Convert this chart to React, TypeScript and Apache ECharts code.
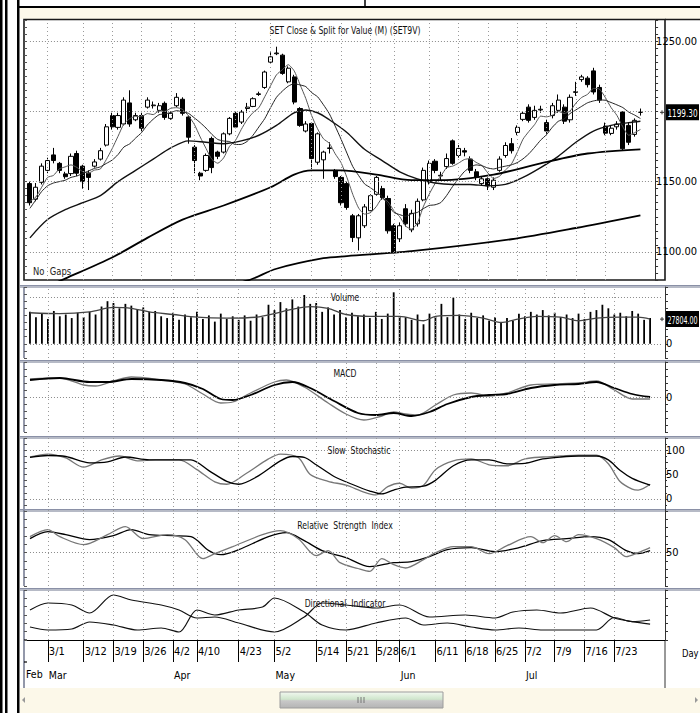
import React, { useEffect, useRef } from "react";
import * as echarts from "echarts";

const FONT = "'Liberation Sans Narrow', 'DejaVu Sans Condensed', 'Arial Narrow', 'Liberation Sans', sans-serif";

// ---------- categories ----------
const dates = ["2/26","2/27","2/28","3/1","3/2","3/6","3/7","3/8","3/9","3/12","3/13","3/14","3/15","3/16","3/19","3/20","3/21","3/22","3/23","3/26","3/27","3/28","3/29","3/30","4/2","4/3","4/4","4/5","4/10","4/11","4/12","4/17","4/18","4/19","4/20","4/23","4/24","4/25","4/26","4/27","4/30","5/2","5/3","5/4","5/8","5/9","5/10","5/11","5/14","5/15","5/16","5/17","5/18","5/21","5/22","5/23","5/24","5/25","5/28","5/29","5/30","5/31","6/1","6/4","6/5","6/6","6/7","6/8","6/11","6/12","6/13","6/14","6/15","6/18","6/19","6/20","6/21","6/22","6/25","6/26","6/27","6/28","6/29","7/2","7/3","7/4","7/5","7/6","7/9","7/10","7/11","7/12","7/13","7/16","7/17","7/18","7/19","7/20","7/23","7/24","7/25","7/26","7/27","7/30","7/31"];
const dateTicks = ["3/1","3/12","3/19","3/26","4/2","4/10","4/23","5/2","5/14","5/21","5/28","6/1","6/11","6/18","6/25","7/2","7/9","7/16","7/23"];
const monthStarts = ["2/26","3/1","4/2","5/2","6/1","7/2"];
const monthNames = ["Feb","Mar","Apr","May","Jun","Jul"];

// ---------- price ----------
const opens = [1148.6,1137.5,1149.5,1158,1169,1163,1155.5,1155.7,1170,1161, 1156,1161,1166,1176,1197,1188.6,1191,1206,1194,1197, 1203,1204,1200.7,1205.7,1195,1204,1208.6,1196,1174.5,1156, 1158,1180.7,1171,1171,1184,1198.6,1192.4,1202,1203.5,1212, 1217,1235,1241,1240,1221,1224.5,1202,1186,1191.4,1163.8, 1165.5,1173.6,1158,1153,1148.6,1125.7,1110,1118.6,1129.3,1141, 1145,1138,1118.6,1109.3,1130.7,1115.7,1120,1137,1150,1164.5, 1154,1160.7,1179,1168.6,1172,1166,1157,1148.6,1152,1146, 1158,1168.6,1177,1185,1194.3,1203,1195.7,1201,1192,1197, 1200.7,1203,1194,1213.5,1222.6,1223.6,1228.8,1217,1189.5,1184.3, 1189,1199.5,1190,1183.6,1199.3];
const closes = [1135,1146,1161,1165,1165,1158,1153.5,1168,1156,1150, 1153,1164,1172,1189,1189,1197,1208,1191,1197,1188, 1208,1204.5,1204,1195.7,1198.6,1210,1198.6,1181.6,1165,1154, 1168.6,1160,1168,1184,1195,1188.8,1199.5,1203,1209,1212.5, 1228,1238.8,1241.5,1227,1230.7,1206.6,1190,1191,1166.4,1184, 1171,1174,1153.6,1135,1131.6,1110.2,1125.7,1132,1140,1153, 1138.6,1115,1100,1118.6,1120,1127.4,1136,1158,1163,1158, 1154.5,1166.4,1163,1173.6,1171,1158,1153,1152,1147,1151, 1166,1175.7,1172,1188.6,1198.6,1193.6,1200.7,1201.5,1186,1204, 1208,1193,1210,1214,1224.5,1219,1213.8,1208,1184.5,1188, 1191,1173.4,1178,1193.6,1199.3];
const highs = [1150,1149,1163,1167,1174,1164,1157,1170,1172,1162, 1158,1166,1174,1191,1199,1199,1210,1215,1199,1199, 1210,1207,1206,1207,1200,1213,1210,1197,1176,1157, 1170,1182,1172,1185,1196,1200,1201,1206,1210,1214, 1229,1242,1246,1241,1232,1226,1203,1193,1192,1185, 1172,1178,1159,1154,1150,1127,1127,1134,1141,1154, 1147,1140,1120,1121,1134,1130,1138,1160,1165,1166, 1157,1170,1180,1176,1174,1168,1159,1154,1153,1153, 1168,1178,1181,1190,1200,1205,1204,1204,1194,1206, 1212,1205,1212,1221,1226,1225,1231,1219,1192,1190, 1193,1200,1192,1195,1202];
const lows = [1133,1136,1148,1156,1163,1156,1152,1154,1154,1145, 1144,1160,1165,1175,1187,1187,1190,1189,1193,1186, 1202,1202,1199,1194,1194,1203,1197,1177,1156,1151, 1157,1156,1166,1170,1183,1188,1191,1199,1203,1211, 1216,1234,1240,1226,1220,1205,1189,1185,1159,1162, 1152,1170,1152,1133,1130,1107,1101,1117,1128,1140, 1137,1113,1099,1107,1118,1114,1118,1136,1148,1156, 1151,1159,1162,1167,1168,1156,1151,1147,1144,1144, 1157,1167,1170,1183,1193,1192,1194,1199,1184,1195, 1199,1191,1192,1211,1221,1217,1212,1206,1183,1183, 1187,1172,1176,1182,1197];

const ma5 = [1136,1139,1146,1153, 1154.4,1159,1160.5,1161.9,1160.1,1157.1,1156.1,1158.2,1159,1165.6, 1173.4,1182.2,1191,1194.8,1196.4,1196.2,1198.4,1197.7,1200.3,1200, 1202.2,1202.6,1201.4,1196.9,1190.8,1181.8,1173.6,1165.8,1163.1,1166.9, 1175.1,1179.2,1187.1,1194.1,1199.1,1202.6,1210.4,1218.3,1226,1229.6, 1233.2,1228.9,1219.2,1209.1,1196.9,1187.6,1180.5,1177.3,1169.8,1163.5, 1153,1140.9,1131.2,1126.9,1127.9,1132.2,1137.9,1135.7,1129.3,1125, 1118.4,1116.2,1120.4,1132,1140.9,1148.5,1153.9,1160,1161,1163.1, 1165.7,1166.4,1163.7,1161.5,1156.2,1152.2,1153.8,1158.3,1162.3,1170.7, 1180.2,1185.7,1190.7,1196.6,1196.1,1197.2,1200,1198.5,1200.2,1205.8, 1209.9,1212.1,1216.3,1215.9,1210,1202.7,1197.1,1189,1183,1184.8, 1187.1];
const ma10 = [1131,1137,1143,1147,1149,1150,1151,1153,1154, 1155.8,1157.6,1159.4,1160.5,1162.9,1165.3,1169.2,1174.6,1176.9,1181, 1184.8,1190.3,1194.4,1197.6,1198.2,1199.2,1200.5,1199.6,1198.6,1195.4, 1192,1188.1,1183.6,1180,1178.9,1178.5,1176.4,1176.5,1178.6,1183, 1188.9,1194.8,1202.7,1210,1214.4,1217.9,1219.7,1218.8,1217.6,1213.3, 1210.4,1204.7,1198.3,1189.5,1180.2,1170.3,1160.7,1154.3,1148.4,1145.7, 1142.6,1139.4,1133.5,1128.1,1126.5,1125.3,1127.1,1128.1,1130.7,1133, 1133.5,1135.1,1140.2,1146.5,1152,1157.1,1160.2,1161.9,1161.3,1159.7, 1159,1160.1,1161,1161.9,1163.5,1166.2,1169.8,1174.5,1179.5,1183.4, 1188.7,1192.9,1194.6,1198.4,1201,1203.6,1206.1,1207.4,1208.1,1207.9, 1206.3,1204.6,1202.7,1199.5,1197.4,1194.9];
const ma25 = [[0,1110],[3,1123],[6,1130],[9,1135],[12,1140],[15,1150],[18,1158],[21,1166],[24,1174],[27,1179],[30,1178],[33,1177],[36,1179],[39,1183],[42,1190],[45,1199],[47,1201],[49,1199],[51,1194],[54,1185],[57,1173],[60,1165],[63,1157],[66,1152],[69,1149],[72,1148],[75,1148],[78,1147],[81,1148],[84,1153],[87,1160],[90,1168],[93,1178],[96,1186],[99,1190],[102,1192],[104,1193]];
const ma75 = [[0,1070],[6,1081],[14,1096],[20,1110],[26,1123],[33,1133],[41,1146],[45,1155],[48,1158],[53,1158],[59,1155],[65,1151],[70,1151],[79,1155],[87,1163],[95,1170],[104,1173]];
const ma200 = [[30,1074],[37,1079.5],[42,1088],[50,1095.5],[54,1097],[65,1100.5],[82,1109],[93,1117],[104,1126]];
const priceGridLines = [1100, 1150, 1200, 1250];
const priceLabels = [1100, 1150, 1250];

// ---------- volume (thousands) ----------
const volumes = [36,30,34,28,37,31,33,29,35,30, 36,33,42,48,46,40,45,43,39,41, 36,37,31,29,35,27,33,30,36,28, 32,25,34,28,31,27,32,26,33,30, 44,38,47,40,50,42,55,45,46,36, 41,33,38,30,35,31,33,29,36,28, 34,58,31,30,27,33,22,34,31,45, 30,52,33,28,35,29,32,26,30,24, 29,26,34,31,36,33,38,32,35,30, 33,29,34,28,36,38,44,40,33,35, 31,37,34,27,29];
const volumeMA = [[0,35],[5,34],[10,36],[14,41],[17,40],[20,36],[24,33],[28,30],[33,29],[38,30],[41,34],[44,39],[47,42],[50,40],[53,33],[57,31],[62,31],[66,26],[68,31],[72,32],[76,29],[79,24],[82,28],[85,31],[89,30],[92,26],[95,29],[99,30],[102,30],[104,27.804]];
const volumeGuide = 52000;
const volumeLabels = [0];

// ---------- MACD ----------
const macdLine = [[0,18],[5,19],[9,12],[11,11],[14,16],[17,20],[22,17],[26,13],[29,3],[32,-6],[34,-5],[37,4],[41,15],[43,17],[46,10],[50,-6],[53,-17],[56,-23],[59,-19],[61,-15],[63,-17],[65,-18],[68,-8],[71,2],[74,4],[77,1],[80,4],[84,12],[88,13],[92,14],[95,16],[98,7],[101,-2],[104,-2]];
const macdSignal = [[0,17],[5,19],[10,15],[13,15],[17,18],[22,17],[26,14],[29,8],[32,-2],[34,-3],[37,2],[41,12],[44,15],[47,9],[51,-4],[55,-16],[58,-18],[61,-16],[64,-19],[67,-15],[70,-7],[74,0],[77,2],[80,3],[84,9],[88,12],[92,13],[95,15],[98,9],[101,3],[104,0]];
const macdLabels = [0];

// ---------- Slow stochastic ----------
const stochK = [[0,86],[3,92],[6,84],[9,65],[12,80],[15,88],[18,78],[21,80],[25,80],[28,60],[31,35],[33,30],[36,50],[40,82],[42,92],[45,85],[47,50],[50,36],[53,28],[56,14],[58,8],[60,25],[62,32],[64,22],[66,28],[68,60],[71,78],[74,82],[77,70],[80,68],[83,82],[86,86],[89,88],[92,90],[95,90],[97,72],[99,35],[101,20],[102,18],[104,30]];
const stochD = [[0,85],[3,89],[6,87],[10,74],[13,76],[16,86],[20,80],[24,80],[27,80],[30,58],[33,36],[35,30],[38,45],[42,78],[44,87],[46,85],[48,70],[51,46],[54,30],[57,16],[59,10],[61,18],[63,24],[66,26],[68,38],[71,68],[74,80],[77,80],[80,72],[83,73],[86,82],[89,86],[92,88],[95,88],[97,80],[99,58],[101,42],[104,28]];
const stochLabels = [0, 50, 100];

// ---------- RSI ----------
const rsiLine = [[0,66.8],[3,75.2],[6,71.6],[10,65.6],[14,70.4],[17,77.6],[20,71.6],[24,70.4],[27,69.2],[30,52.4],[32,47.6],[35,53.6],[40,69.2],[43,74],[46,64.4],[49,52.4],[53,44],[57,33.2],[61,38],[64,39.2],[67,45.2],[70,53.6],[74,56],[78,51.2],[82,56],[86,64.4],[90,66.8],[94,69.2],[97,65.6],[100,52.4],[102,48.8],[104,52.4]];
const rsiAvg = [[0,69.2],[3,77.6],[5,69.2],[9,59.6],[13,71.6],[16,81.2],[19,66.8],[23,71.6],[26,65.6],[29,42.8],[31,48.8],[34,57.2],[39,71.6],[42,76.4],[45,66.8],[48,46.4],[50,52.4],[52,38],[55,31],[57,27.5],[59,42.8],[61,35.6],[63,31.6],[66,41.6],[68,50],[71,57.2],[74,57.2],[77,48.8],[80,58.4],[84,69.2],[86,62],[88,70.4],[90,63.2],[92,71.6],[95,66.8],[98,56],[100,45.2],[102,50],[104,56]];
const rsiLabels = [50];

// ---------- Directional indicator ----------
const diPlus = [[0,36],[3,44.4],[7,42],[10,32.4],[14,54],[17,48],[22,42],[25,36],[28,26.4],[31,27.6],[35,20.4],[41,9.6],[46,27.6],[49,44.4],[53,42],[58,38.4],[62,42],[67,27.6],[73,30],[78,26.4],[81,33.6],[85,36],[89,32.4],[94,38.4],[98,26.4],[101,22],[104,19]];
const diMinus = [[0,15.6],[3,12],[7,13.2],[10,21.6],[14,18],[18,12],[22,14.4],[25,9.6],[28,36],[31,30],[35,36],[39,39.6],[41,50.4],[46,33.6],[49,18],[53,12],[58,20.4],[63,26.4],[66,18],[70,20.4],[74,15.6],[78,12],[82,14.4],[86,12],[90,12],[95,12],[98,27],[101,22],[104,24]];

// ---------- layout ----------
const panels = [
  { top: 20, height: 260, title: "SET Close & Split for Value (M) (SET9V)", titleY: 30, titleX: 345 },
  { top: 287, height: 71, title: "Volume", titleY: 297, titleX: 345 },
  { top: 362, height: 70, title: "MACD", titleY: 373, titleX: 345 },
  { top: 438, height: 73, title: "Slow  Stochastic", titleY: 450, titleX: 359 },
  { top: 511, height: 75, title: "Relative  Strength  Index", titleY: 525, titleX: 345 },
  { top: 590, height: 50, title: "Directional  Indicator", titleY: 603, titleX: 345 },
];
const GRID_LEFT = 27;
const GRID_RIGHT = 35;

export default function App() {
  const ref = useRef<HTMLDivElement>(null);
  useEffect(() => {
    if (!ref.current) return;
    const chart = echarts.init(ref.current, null, { renderer: "svg" });
    const cats = dates.concat([" ", "  "]);
    const lastCat = cats.length - 1;
    const tickSet = new Set(dateTicks.map((d) => dates.indexOf(d)));
    const monthIdx = new Set(monthStarts.slice(1).map((d) => dates.indexOf(d)));
    const monthMap: Record<string, string> = {};
    monthStarts.forEach((d, k) => (monthMap[d] = monthNames[k]));

    const guides = (hVals: number[]) => ({
      symbol: ["none", "none"],
      silent: true,
      animation: false,
      label: { show: false },
      data: [
        ...hVals.map((v) => [
          { xAxis: 0, yAxis: v, lineStyle: { type: [1, 2], color: "#8a8a8a", width: 1 } },
          { xAxis: lastCat, yAxis: v },
        ]),
        ...dateTicks.map((d) => ({ xAxis: d, lineStyle: { type: [1, 3], color: "#9a9a9a", width: 1 } })),
      ],
    });

    const xCat = (g: number) => ({
      type: "category", gridIndex: g, data: cats, boundaryGap: true,
      axisLine: { show: false }, axisTick: { show: false }, axisLabel: { show: false }, splitLine: { show: false },
    });
    const yRight = (g: number, min: number, max: number, interval: number, labels: number[], fmt: (v: number) => string, minor = false) => ({
      type: "value", gridIndex: g, position: "right", min, max, interval,
      axisLine: { show: true, lineStyle: { color: "#333", width: 1 } },
      axisTick: { show: true, length: 3, lineStyle: { color: "#333" } },
      minorTick: { show: minor, splitNumber: 2, length: 2, lineStyle: { color: "#333" } },
      splitLine: { show: false },
      axisLabel: {
        show: true, margin: 1, color: "#000", fontSize: 11, fontFamily: FONT,
        formatter: (v: number) => (labels.some((l) => Math.abs(l - v) < 1e-6) ? fmt(v) : ""),
      },
    });
    const yLeft = (g: number, min: number, max: number, interval: number) => ({
      type: "value", gridIndex: g, position: "left", offset: 3, min, max, interval,
      axisLine: { show: false }, axisLabel: { show: false }, splitLine: { show: false },
      axisTick: { show: true, inside: true, length: 3, lineStyle: { color: "#555" } },
    });
    const line = (name: string, xi: number, yi: number, data: any[], color: string, width: number, smooth = 0.3, markLine?: any) => ({
      type: "line", name, xAxisIndex: xi, yAxisIndex: yi, data, symbol: "none", showSymbol: false,
      smooth, lineStyle: { color, width }, z: 4, silent: true, ...(markLine ? { markLine } : {}),
    });

    const candle = opens.map((o, i) => [o, closes[i], lows[i], highs[i]]);
    const lastClose = closes[closes.length - 1];
    const lastVolMA = volumeMA[volumeMA.length - 1][1] * 1000;

    const xAxis: any[] = [0, 1, 2, 3, 4].map(xCat);
    xAxis.push({
      type: "category", gridIndex: 5, data: cats, boundaryGap: true,
      axisLine: { show: true, lineStyle: { color: "#000", width: 1.2 } },
      axisTick: { show: true, alignWithLabel: true, length: 22, interval: (i: number) => tickSet.has(i), lineStyle: { color: "#000" } },
      axisLabel: {
        show: true, interval: (i: number) => tickSet.has(i), align: "left", padding: [0, 0, 0, 1],
        margin: 6, color: "#000", fontSize: 11, fontFamily: FONT,
      },
      splitLine: { show: false },
    });
    xAxis.push({
      type: "category", gridIndex: 5, data: cats, boundaryGap: true, position: "bottom", offset: 22,
      axisLine: { show: true, lineStyle: { color: "#000", width: 1.2 } },
      axisTick: { show: true, alignWithLabel: true, length: 22, interval: (i: number) => monthIdx.has(i), lineStyle: { color: "#000" } },
      axisLabel: {
        show: true, interval: (i: number) => monthIdx.has(i), align: "left", padding: [0, 0, 0, 1],
        margin: 7, color: "#000", fontSize: 10.5, fontFamily: FONT,
        formatter: (v: string) => monthMap[v] || "",
      },
      splitLine: { show: false },
    });

    const yAxis: any[] = [
      yRight(0, 1080, 1265, 5, priceLabels, (v) => v.toFixed(2)),
      yRight(1, -16000, 64000, 8000, volumeLabels, (v) => String(Math.round(v))),
      yRight(2, -35, 35, 7, macdLabels, (v) => String(Math.round(v))),
      yRight(3, -25, 125, 25, stochLabels, (v) => String(Math.round(v)), true),
      yRight(4, 10, 100, 10, rsiLabels, (v) => String(Math.round(v))),
      yRight(5, 0, 60, 10, [], (v) => String(v)),
      yLeft(0, 1080, 1265, 5),
      yLeft(1, -16000, 64000, 8000),
      yLeft(2, -35, 35, 7),
      yLeft(3, -25, 125, 12.5),
      yLeft(4, 10, 100, 10),
      yLeft(5, 0, 60, 10),
    ];

    const series: any[] = [
      {
        type: "candlestick", name: "SET", xAxisIndex: 0, yAxisIndex: 0, data: candle, barWidth: 4.6, z: 3, silent: true,
        itemStyle: { color: "#fff", color0: "#000", borderColor: "#000", borderColor0: "#000", borderWidth: 1 },
      },
      line("MA5", 0, 0, ma5, "#555", 1, 0.2, guides(priceGridLines)),
      line("MA10", 0, 0, ma10, "#222", 1, 0.2),
      line("MA25", 0, 0, ma25, "#111", 1.4),
      line("MA75", 0, 0, ma75, "#000", 1.8),
      line("MA200", 0, 0, ma200, "#000", 1.8),
      {
        type: "bar", name: "Volume", xAxisIndex: 1, yAxisIndex: 1, data: volumes.map((v) => v * 1000),
        barWidth: 1.8, itemStyle: { color: "#000" }, silent: true,
        markLine: guides([0, volumeGuide]),
      },
      line("VolMA", 1, 1, volumeMA.map(([i, v]) => [i, v * 1000]), "#444", 1.3),
      line("MACD", 2, 2, macdLine, "#777", 1.3, 0.3, guides([0])),
      line("Signal", 2, 2, macdSignal, "#000", 1.8),
      line("%K", 3, 3, stochK, "#777", 1.3, 0.3, guides([0, 100])),
      line("%D", 3, 3, stochD, "#000", 1.3),
      line("RSI", 4, 4, rsiLine, "#000", 1.3, 0.3, guides([50])),
      line("RSIavg", 4, 4, rsiAvg, "#777", 1.3),
      line("+DI", 5, 5, diPlus, "#111", 1.2, 0.3, guides([])),
      line("-DI", 5, 5, diMinus, "#111", 1.2),
    ];

    const txt = (x: number, y: number, text: string, size: number, align: string, scaleX = 1, fill = "#111") => ({
      type: "text", x, y, z: 10, scaleX,
      style: { text, fill, fontSize: size, fontFamily: FONT, align, textAlign: align, verticalAlign: "middle", textVerticalAlign: "middle" },
    });

    const graphic: any[] = [];
    graphic.push({ type: "rect", shape: { x: 20, y: 8, width: 680, height: 11 }, style: { fill: "#fdf9ea" }, z: 0 });
    graphic.push({ type: "rect", shape: { x: 0, y: 0, width: 2.5, height: 713 }, style: { fill: "#000" } });
    graphic.push({ type: "rect", shape: { x: 5, y: 0, width: 2.5, height: 713 }, style: { fill: "#000" } });
    graphic.push({ type: "rect", shape: { x: 17, y: 0, width: 2.5, height: 713 }, style: { fill: "#000" } });
    graphic.push({ type: "rect", shape: { x: 17, y: 6, width: 683, height: 2 }, style: { fill: "#000" } });
    graphic.push({ type: "line", shape: { x1: 365, y1: 0, x2: 365, y2: 7 }, style: { stroke: "#000", lineWidth: 1.5 } });
    graphic.push({ type: "rect", shape: { x: 24, y: 19.5, width: 641, height: 260.5 }, style: { fill: "none", stroke: "#1a1a1a", lineWidth: 1.6 } });
    graphic.push({ type: "line", shape: { x1: 665, y1: 19.5, x2: 700, y2: 19.5 }, style: { stroke: "#1a1a1a", lineWidth: 1.6 } });
    panels.slice(1).forEach((p) => {
      graphic.push({ type: "line", shape: { x1: 20, y1: p.top - 1.5, x2: 700, y2: p.top - 1.5 }, style: { stroke: "#8a90a6", lineWidth: 1 } });
      graphic.push({ type: "line", shape: { x1: 20, y1: p.top, x2: 700, y2: p.top }, style: { stroke: "#6f768e", lineWidth: 1.2 } });
      graphic.push({ type: "line", shape: { x1: 24, y1: p.top, x2: 24, y2: p.top + p.height }, style: { stroke: "#6f768e", lineWidth: 1.5 } });
    });
    graphic.push({ type: "line", shape: { x1: 24, y1: 640, x2: 24, y2: 688 }, style: { stroke: "#6f768e", lineWidth: 1.5 } });
    graphic.push({ type: "line", shape: { x1: 665, y1: 640, x2: 665, y2: 688 }, style: { stroke: "#333", lineWidth: 1 } });
    graphic.push({ type: "line", shape: { x1: 24, y1: 640, x2: 27, y2: 640 }, style: { stroke: "#000", lineWidth: 1.2 } });
    graphic.push({ type: "line", shape: { x1: 24, y1: 662, x2: 27, y2: 662 }, style: { stroke: "#000", lineWidth: 1.2 } });
    graphic.push(txt(682, 653, "Day", 11, "left", 0.85, "#000"));
    graphic.push(txt(26, 674, monthNames[0], 10.5, "left", 1, "#000"));
    panels.forEach((p) => {
      graphic.push(txt(p.titleX, p.titleY, p.title, 11, "center", 0.78));
    });
    graphic.push(txt(33, 271, "No  Gaps", 11, "left", 0.85, "#222"));
    graphic.push({ type: "rect", shape: { x: 20, y: 688, width: 680, height: 25 }, style: { fill: "#fcf8e9" } });
    graphic.push({
      type: "rect", shape: { x: 280, y: 692, width: 163, height: 16 },
      style: {
        stroke: "#9c9c9c", lineWidth: 1,
        fill: new echarts.graphic.LinearGradient(0, 0, 0, 1, [
          { offset: 0, color: "#f2f8f0" }, { offset: 0.45, color: "#cfe6cc" }, { offset: 0.55, color: "#c8c8c8" }, { offset: 1, color: "#b4b4b4" },
        ]),
      },
    });
    [358, 361, 364].forEach((x) => graphic.push({ type: "line", shape: { x1: x, y1: 697, x2: x, y2: 703 }, style: { stroke: "#777", lineWidth: 1 } }));
    graphic.push({ type: "polygon", shape: { points: [[22, 700], [25, 697], [25, 703]] }, style: { fill: "#999" } });
    graphic.push({ type: "polygon", shape: { points: [[698, 700], [695, 697], [695, 703]] }, style: { fill: "#999" } });

    const base = {
      animation: false,
      backgroundColor: "#fff",
      grid: panels.map((p) => ({ left: GRID_LEFT, right: GRID_RIGHT, top: p.top, height: p.height, show: false })),
      xAxis,
      yAxis,
      series,
    };
    chart.setOption({ ...base, graphic });

    // current-value boxes on the right axis, placed through the axes' scales
    const box = (yAxisIndex: number, value: number, scaleX: number) => {
      const y = chart.convertToPixel({ yAxisIndex }, value) as number;
      return [
        { type: "rect", z: 11, shape: { x: 666, y: y - 8, width: 33, height: 16 }, style: { fill: "#000" } },
        { type: "line", z: 11, shape: { x1: 660, y1: y, x2: 664, y2: y }, style: { stroke: "#333", lineWidth: 1 } },
        { type: "line", z: 11, shape: { x1: 662, y1: y - 2, x2: 662, y2: y + 2 }, style: { stroke: "#333", lineWidth: 1 } },
        { ...txt(682.5, y + 0.5, value.toFixed(2), 11, "center", scaleX, "#fff"), z: 12 },
      ];
    };
    chart.setOption({ graphic: [...graphic, ...box(0, lastClose, 0.74), ...box(1, lastVolMA, 0.64)] });
    return () => chart.dispose();
  }, []);
  return <div ref={ref} style={{ position: "absolute", left: 0, top: 0, width: 700, height: 713 }} />;
}
